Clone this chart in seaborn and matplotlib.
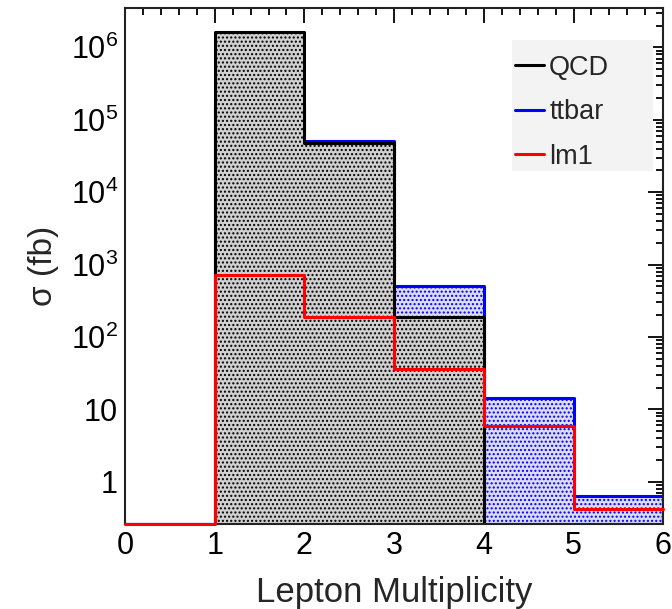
import numpy as np
import seaborn as sns
import matplotlib
matplotlib.use("Agg")
import matplotlib.pyplot as plt
from matplotlib.ticker import FuncFormatter, LogLocator, MultipleLocator
from matplotlib.lines import Line2D
from matplotlib.patches import Rectangle

# Bin edges (lepton multiplicity) and cross sections per bin (fb)
bin_edges = [0, 1, 2, 3, 4, 5, 6]
bin_centers = [0.5, 1.5, 2.5, 3.5, 4.5, 5.5]
qcd_xsec = [0, 1.63e6, 4.7e4, 190, 0, 0]
ttbar_xsec = [0, 1.5e5, 5.1e4, 500, 14.5, 0.64]
lm1_xsec = [0, 710, 190, 36, 5.8, 0.42]
sample_names = ["QCD", "ttbar", "lm1"]

y_min, y_max = 0.263, 3.5e6


def main():
    sns.set_style("white")
    plt.rcParams["font.family"] = ["Liberation Sans", "DejaVu Sans"]
    plt.rcParams["mathtext.fontset"] = "custom"
    plt.rcParams["mathtext.rm"] = "Liberation Sans"
    plt.rcParams["mathtext.it"] = "Liberation Sans"
    plt.rcParams["hatch.linewidth"] = 1.0

    fig = plt.figure(figsize=(6.72, 6.09), dpi=100)
    ax = fig.add_axes([0.186, 0.140, 0.801, 0.847])

    # empty bins are drawn at the frame minimum, as ROOT does
    ttbar = np.maximum(ttbar_xsec, y_min)
    qcd = np.maximum(qcd_xsec, y_min)
    lm1 = np.maximum(lm1_xsec, y_min)

    plt.rcParams["hatch.color"] = "#3030e0"
    sns.histplot(x=bin_centers, weights=ttbar, bins=bin_edges, element="step",
                 fill=True, facecolor="#dcdcf6", edgecolor="blue", hatch="....",
                 linewidth=2.2, alpha=1, ax=ax)
    plt.rcParams["hatch.color"] = "#383838"
    sns.histplot(x=bin_centers, weights=qcd, bins=bin_edges, element="step",
                 fill=True, facecolor="#d0d0d0", edgecolor="black", hatch="....",
                 linewidth=2.2, alpha=1, ax=ax)
    sns.histplot(x=bin_centers, weights=lm1, bins=bin_edges, element="step",
                 fill=False, color="red", linewidth=2.2, clip_on=False,
                 zorder=3, ax=ax)

    ax.set_yscale("log")
    ax.set_xlim(0, 6)
    ax.set_ylim(y_min, y_max)

    def fmt(v, pos):
        n = int(round(np.log10(v)))
        if n == 0:
            return "1"
        if n == 1:
            return "10"
        return r"$10^{%d}$" % n

    ax.yaxis.set_major_locator(LogLocator(base=10))
    ax.yaxis.set_minor_locator(LogLocator(base=10, subs=np.arange(2, 10)))
    ax.yaxis.set_major_formatter(FuncFormatter(fmt))
    ax.xaxis.set_major_locator(MultipleLocator(1))
    ax.xaxis.set_minor_locator(MultipleLocator(0.2))

    ax.tick_params(which="both", direction="in", top=True, right=True,
                   width=1.3, colors="black")
    ax.tick_params(which="major", length=10.5, labelsize=22, pad=5)
    ax.tick_params(which="minor", length=5)
    for s in ax.spines.values():
        s.set_linewidth(1.5)
        s.set_color("#222222")

    ax.set_xlabel("Lepton Multiplicity", fontsize=25, labelpad=11)
    ax.set_ylabel("σ (fb)", fontsize=24, labelpad=8)

    # legend: light grey box, no border
    ax.add_patch(Rectangle((0.719, 0.684), 0.262, 0.254, transform=ax.transAxes,
                           facecolor="#f3f3f3", edgecolor="none", zorder=4))
    handles = [Line2D([], [], color=c, linewidth=2.2) for c in ["black", "blue", "red"]]
    leg = ax.legend(handles, sample_names, loc="upper left",
                    bbox_to_anchor=(0.705, 0.684, 0.276, 0.246),
                    fontsize=19.5, frameon=False, borderpad=0.15,
                    labelspacing=0.68, handlelength=1.05, handletextpad=0.2,
                    borderaxespad=0.25)
    leg.set_zorder(5)

    plt.savefig("out.png", dpi=100)


if __name__ == "__main__":

    main()
